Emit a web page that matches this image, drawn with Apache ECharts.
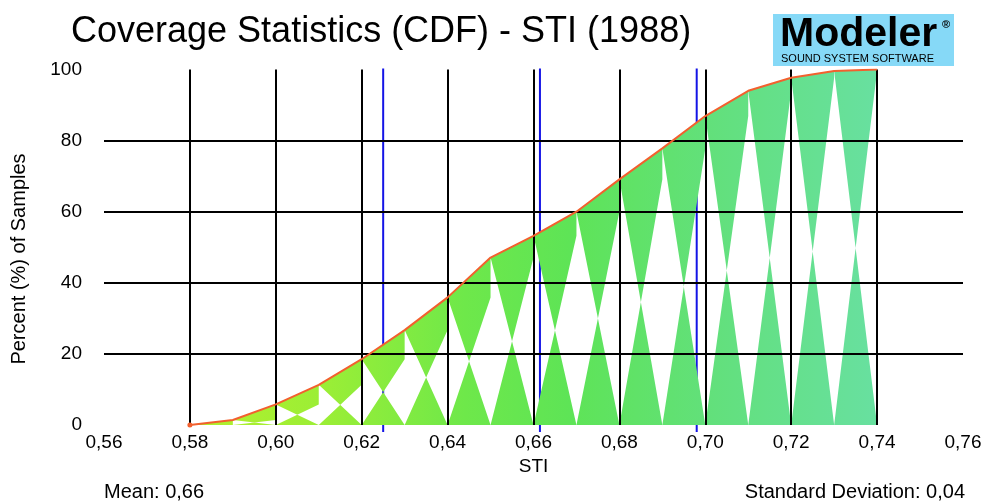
<!DOCTYPE html>
<html>
<head>
<meta charset="utf-8">
<script src="https://cdn.jsdelivr.net/npm/echarts@6/dist/echarts.min.js"></script>
<style>
  html, body { margin: 0; padding: 0; background: #fff; }
  #chart { width: 985px; height: 504px; }
</style>
</head>
<body>
<div id="chart"></div>
<script>
// STI sample points and cumulative percentages
const stiValues = [0.58, 0.59, 0.60, 0.61, 0.62, 0.63, 0.64, 0.65, 0.66, 0.67, 0.68, 0.69, 0.70, 0.71, 0.72, 0.73, 0.74];
const cdfValues = [0, 1.4, 5.8, 11.3, 18.5, 26.7, 35.9, 47.1, 53.2, 60.0, 69.1, 77.8, 86.9, 94.0, 97.7, 99.6, 100];
// mean - sd, mean, mean + sd
const statLines = [0.625, 0.6615, 0.698];
const xTicks = [0.56, 0.58, 0.60, 0.62, 0.64, 0.66, 0.68, 0.70, 0.72, 0.74, 0.76];
const yTicks = [0, 20, 40, 60, 80, 100];
const meanText = "0,66";
const sdText = "0,04";

const chart = echarts.init(document.getElementById("chart"));

const segments = stiValues.slice(0, -1).map((x, i) => [x, stiValues[i + 1], cdfValues[i], cdfValues[i + 1]]);
const curve = stiValues.map((x, i) =>
  i === 0 ? { value: [x, cdfValues[i]], symbol: "circle", symbolSize: 5 } : [x, cdfValues[i]]
);

const fmt = (v) => v.toFixed(2).replace(".", ",");
const font = "Liberation Sans, Arial, sans-serif";

const option = {
  backgroundColor: "#ffffff",
  animation: false,
  title: {
    text: "Coverage Statistics (CDF) - STI (1988)",
    left: 66,
    top: 9,
    textStyle: { fontFamily: font, fontSize: 36, fontWeight: "normal", color: "#000" },
  },
  grid: { left: 104, right: 22, top: 69.5, bottom: 79 },
  xAxis: {
    type: "value",
    min: xTicks[0],
    max: xTicks[xTicks.length - 1],
    interval: 0.02,
    z: 3,
    name: "STI",
    nameLocation: "middle",
    nameGap: 32,
    nameTextStyle: { fontFamily: font, fontSize: 19, color: "#000" },
    axisLine: { show: false },
    axisTick: { show: false },
    axisLabel: { fontFamily: font, fontSize: 19, color: "#000", margin: 8, formatter: fmt },
    splitLine: { show: true, showMinLine: false, showMaxLine: false, lineStyle: { color: "#000", width: 2 } },
  },
  yAxis: {
    type: "value",
    min: yTicks[0],
    max: yTicks[yTicks.length - 1],
    interval: 20,
    z: 3,
    axisLine: { show: false },
    axisTick: { show: false },
    axisLabel: { fontFamily: font, fontSize: 19, color: "#000", margin: 22 },
    splitLine: { show: true, showMinLine: false, showMaxLine: false, lineStyle: { color: "#000", width: 2 } },
  },
  graphic: [
    {
      type: "text", x: 19, y: 259, rotation: Math.PI / 2,
      style: { text: "Percent (%) of Samples", font: "20px " + font, fill: "#000", align: "center", verticalAlign: "middle" },
    },
    { type: "rect", shape: { x: 773, y: 14, width: 181, height: 52 }, style: { fill: "#86d9f7" } },
    { type: "text", left: 780, top: 14, style: { text: "Modeler", font: "bold 41px " + font, fill: "#000" } },
    { type: "text", left: 942, top: 19, style: { text: "®", font: "bold 11px " + font, fill: "#000" } },
    { type: "text", left: 781, top: 53, style: { text: "SOUND SYSTEM SOFTWARE", font: "11px " + font, fill: "#000" } },
    { type: "text", left: 104, top: 482, style: { text: "Mean: " + meanText, font: "20px " + font, fill: "#000" } },
    { type: "text", right: 20, top: 482, style: { text: "Standard Deviation: " + sdText, font: "20px " + font, fill: "#000" } },
  ],
  series: [
    {
      // mean / standard deviation markers, drawn below the fill
      type: "custom",
      z: 1,
      clip: false,
      data: statLines,
      encode: { x: 0 },
      renderItem: (params, api) => {
        const top = api.coord([api.value(0), 100]);
        const bot = api.coord([api.value(0), 0]);
        return {
          type: "line",
          shape: { x1: top[0], y1: top[1] - 1, x2: bot[0], y2: bot[1] + 7 },
          style: { stroke: "#1414e6", lineWidth: 2 },
        };
      },
    },
    {
      type: "custom",
      z: 2,
      data: segments,
      encode: { x: [0, 1], y: [2, 3] },
      renderItem: (params, api) => {
        const x0 = api.value(0), x1 = api.value(1);
        const y0 = api.value(2), y1 = api.value(3);
        const pts = [
          api.coord([x0, y0]),
          api.coord([x1, y1]),
          api.coord([x1, y0]),
          api.coord([x0, 0]),
          api.coord([x1, 0]),
        ];
        const left = api.coord([stiValues[0], 0])[0];
        const right = api.coord([stiValues[stiValues.length - 1], 0])[0];
        return {
          type: "polygon",
          shape: { points: pts },
          style: {
            fill: new echarts.graphic.LinearGradient(left, 0, right, 0, [
              { offset: 0, color: "#b4f02c" },
              { offset: 0.2, color: "#9aee36" },
              { offset: 0.4, color: "#6ee84a" },
              { offset: 0.55, color: "#5ee456" },
              { offset: 0.75, color: "#62e07a" },
              { offset: 1, color: "#68e0a0" },
            ], true),
          },
        };
      },
    },
    {
      type: "line",
      z: 4,
      data: curve,
      symbol: "none",
      itemStyle: { color: "#f2602e" },
      lineStyle: { color: "#f2602e", width: 2 },
    },
  ],
};

chart.setOption(option);
</script>
</body>
</html>
